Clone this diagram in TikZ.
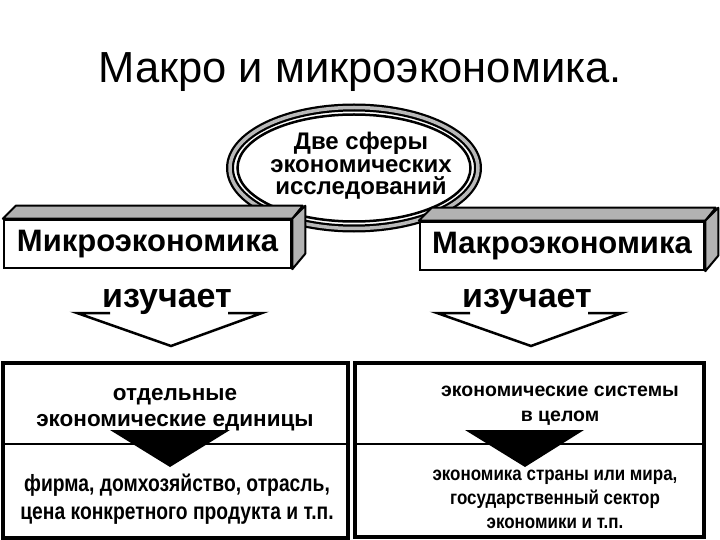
\documentclass[tikz,border=0pt]{standalone}
\usepackage{fontspec}
\setmainfont{Liberation Sans}
\newfontfamily\narrowfont[FakeStretch=0.82]{Liberation Sans}
\newfontfamily\semifont[FakeStretch=0.87]{Liberation Sans}
\usetikzlibrary{positioning}

\tikzset{
  frontbox/.style={draw,line width=2.5pt,fill=white,inner sep=0pt,
    minimum width=287pt,minimum height=48pt,
    font=\bfseries\fontsize{31}{31}\selectfont},
  sideface/.style={draw,line width=2pt,fill=gray!60,line join=round},
  study/.style={font=\bfseries\fontsize{34}{34}\selectfont,inner sep=0pt,anchor=base},
  hollow/.style={line width=2.5pt,line join=miter},
  frame/.style={draw,line width=3.5pt},
  boxtext/.style={align=center,inner sep=0pt,font=\bfseries\fontsize{22.5}{26}\selectfont},
}

\begin{document}
\begin{tikzpicture}[x=1pt,y=-1pt]
\useasboundingbox (0,0) rectangle (720,540);

% title
\node[anchor=base] (title) at (360,83) {\fontsize{43.5}{44}\selectfont Макро и микроэкономика.};

% two spheres
\path (354,168) coordinate (c);
\draw[line width=8pt] (c) ellipse (124 and 60.5);
\draw[line width=3.5pt,gray!55] (c) ellipse (124 and 60.5);
\draw[line width=2.5pt] (c) ellipse (116.5 and 53.5);
\node[align=center,font=\bfseries\fontsize{24}{22.5}\selectfont] (spheres) at (361,166)
  {Две сферы\\экономических\\исследований};

% micro and macro
\node[frontbox] (micro) at (147.5,244) {Микроэкономика};
\draw[sideface] (micro.north west) -- ++(13,-13) -- ++(287,0) -- (micro.north east) -- cycle;
\draw[sideface] (micro.north east) -- ++(13,-13) -- ++(0,48) -- (micro.south east) -- cycle;

\node[frontbox,minimum width=284pt] (macro) at (562,246) {Макроэкономика};
\draw[sideface] (macro.north west) -- ++(13,-13) -- ++(284,0) -- (macro.north east) -- cycle;
\draw[sideface] (macro.north east) -- ++(13,-13) -- ++(0,48) -- (macro.south east) -- cycle;

% studies
\foreach \dx/\s in {0/micro,360/macro} {
  \node[study] (learn\s) at (167+\dx,307) {изучает};
  \draw[hollow] (110+\dx,313) -- (77+\dx,313) -- (171+\dx,346) -- (262+\dx,313) -- (228+\dx,313);
}

% objects
\draw[frame] (3,363) rectangle (348,538);
\draw[frame] (355,363) rectangle (704,537);
\draw[line width=2.5pt] (3,444) -- (348,444);
\draw[line width=2.5pt] (355,444) -- (704,444);
\fill (110,430) -- (230,430) -- (170,467) -- cycle;
\fill (465,430) -- (584,430) -- (525,467) -- cycle;

\node[boxtext] (unitsL) at (175,410) {отдельные\\экономические единицы};
\node[boxtext,font=\bfseries\narrowfont\fontsize{23.5}{28}\selectfont] (firmL) at (177,499)
  {фирма, домхозяйство, отрасль,\\цена конкретного продукта и т.п.};
\node[boxtext,font=\bfseries\fontsize{19.5}{25}\selectfont] (systemsR) at (560,406)
  {экономические системы\\в целом};
\node[boxtext,font=\bfseries\semifont\fontsize{19.5}{24}\selectfont] (countryR) at (555,499)
  {экономика страны или мира,\\государственный сектор\\экономики и т.п.};

\end{tikzpicture}
\end{document}
